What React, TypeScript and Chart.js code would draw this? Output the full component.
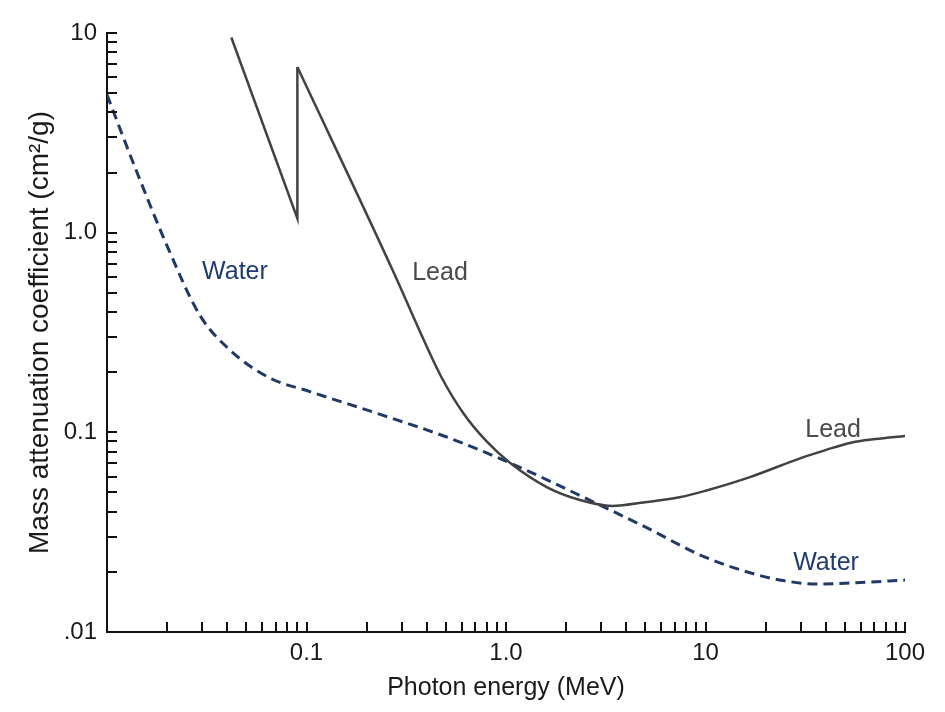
import React, { useEffect, useRef } from "react";
import { Chart, registerables } from "chart.js";

Chart.register(...registerables);

// Lead: pre K-edge segment (incl. edge jump)
const leadEdgeEnergy = [0.042, 0.09, 0.09];
const leadEdgeCoeff = [9.5, 1.18, 6.75];
// Lead: above K-edge
const leadEnergy = [0.09, 0.27, 0.4, 0.48, 0.61, 0.8, 1.05, 1.6, 2.35, 3.4, 5.1, 7.5, 10, 16.7, 30, 40, 53, 71, 100];
const leadCoeff = [6.75, 0.65, 0.27, 0.185, 0.125, 0.09, 0.0702, 0.0532, 0.0458, 0.0428, 0.0448, 0.0474, 0.051, 0.0597, 0.0743, 0.0815, 0.0885, 0.0925, 0.0958];
// Water
const waterEnergy = [0.01, 0.0138, 0.0202, 0.0292, 0.0414, 0.0656, 0.104, 0.234, 0.5, 1.05, 2.96, 5.1, 9.4, 16.7, 24.5, 36, 53, 100];
const waterCoeff = [4.9, 2.13, 0.84, 0.386, 0.258, 0.187, 0.16, 0.123, 0.095, 0.0702, 0.0432, 0.0332, 0.0243, 0.0198, 0.0181, 0.0174, 0.0176, 0.0182];

// Tick values and labels
const xMajorTicks = [0.01, 0.1, 1, 10, 100];
const xMajorLabels = ["", "0.1", "1.0", "10", "100"];
const yMajorTicks = [0.01, 0.1, 1, 10];
const yMajorLabels = [".01", "0.1", "1.0", "10"];
const minorMultipliers = [2, 3, 4, 5, 6, 7, 8, 9];

const xTitle = "Photon energy (MeV)";
const yTitle = "Mass attenuation coefficient (cm\u00B2/g)";

// In-plot curve labels (data coordinates)
const curveLabels = [
  { text: "Water", x: 0.0438, y: 0.635, color: "#1f3c6e" },
  { text: "Lead", x: 0.467, y: 0.628, color: "#4a4a4a" },
  { text: "Lead", x: 43.6, y: 0.1027, color: "#4a4a4a" },
  { text: "Water", x: 40.2, y: 0.0222, color: "#1f3c6e" },
];

const FONT = "'Liberation Sans', Arial, Helvetica, sans-serif";
const LEAD_COLOR = "#424242";
const WATER_COLOR = "#1f3a66";

function minorsFor(majors: number[]): number[] {
  const out: number[] = [];
  for (let i = 0; i < majors.length - 1; i++) {
    for (const m of minorMultipliers) out.push(majors[i] * m);
  }
  return out;
}

const decorPlugin = {
  id: "decor",
  afterDatasetsDraw(chart: any) {
    const { ctx, chartArea, scales } = chart;
    const xs = scales.x;
    const ys = scales.y;
    ctx.save();
    ctx.strokeStyle = "#111";
    ctx.lineWidth = 2;
    const tickLen = 10;
    ctx.beginPath();
    const xt = [...xMajorTicks, ...minorsFor(xMajorTicks)];
    for (const v of xt) {
      const px = Math.round(xs.getPixelForValue(v));
      if (px <= chartArea.left + 1) continue;
      ctx.moveTo(px, chartArea.bottom);
      ctx.lineTo(px, chartArea.bottom - tickLen);
    }
    const yt = [...yMajorTicks, ...minorsFor(yMajorTicks)];
    for (const v of yt) {
      const py = Math.round(ys.getPixelForValue(v));
      if (py >= chartArea.bottom - 1) continue;
      ctx.moveTo(chartArea.left, py);
      ctx.lineTo(chartArea.left + tickLen, py);
    }
    ctx.stroke();

    ctx.font = `25px ${FONT}`;
    ctx.textAlign = "center";
    ctx.textBaseline = "middle";
    for (const l of curveLabels) {
      ctx.fillStyle = l.color;
      ctx.fillText(l.text, xs.getPixelForValue(l.x), ys.getPixelForValue(l.y));
    }
    ctx.restore();
  },
};

export default function App() {
  const ref = useRef<HTMLCanvasElement | null>(null);
  useEffect(() => {
    if (!ref.current) return;
    const chart = new Chart(ref.current, {
      type: "scatter",
      data: {
        datasets: [
          {
            label: "Lead (below edge)",
            data: leadEdgeEnergy.map((x, i) => ({ x, y: leadEdgeCoeff[i] })),
            showLine: true,
            borderColor: LEAD_COLOR,
            borderWidth: 2.5,
            pointRadius: 0,
            tension: 0,
          },
          {
            label: "Lead",
            data: leadEnergy.map((x, i) => ({ x, y: leadCoeff[i] })),
            showLine: true,
            borderColor: LEAD_COLOR,
            borderWidth: 2.5,
            pointRadius: 0,
            cubicInterpolationMode: "monotone",
          },
          {
            label: "Water",
            data: waterEnergy.map((x, i) => ({ x, y: waterCoeff[i] })),
            showLine: true,
            borderColor: WATER_COLOR,
            borderWidth: 3,
            borderDash: [10, 6],
            pointRadius: 0,
            cubicInterpolationMode: "monotone",
          },
        ],
      },
      options: {
        responsive: false,
        animation: false,
        events: [],
        layout: { padding: { left: 0, top: 33, right: 40, bottom: 0 } },
        plugins: { legend: { display: false }, tooltip: { enabled: false } },
        scales: {
          x: {
            type: "logarithmic",
            min: 0.01,
            max: 100,
            grid: { display: false, drawTicks: false },
            border: { display: true, color: "#111", width: 2 },
            afterBuildTicks: (s: any) => {
              s.ticks = xMajorTicks.map((v) => ({ value: v }));
            },
            afterFit: (s: any) => {
              s.height = 80;
            },
            ticks: {
              autoSkip: false,
              maxRotation: 0,
              padding: 7,
              color: "#1a1a1a",
              font: { family: FONT, size: 24 },
              callback: (v: any) => {
                const i = xMajorTicks.findIndex((t) => Math.abs(t - Number(v)) / t < 1e-6);
                return i >= 0 ? xMajorLabels[i] : "";
              },
            },
            title: {
              display: true,
              text: xTitle,
              color: "#1a1a1a",
              font: { family: FONT, size: 25 },
              padding: { top: 0, bottom: 9 },
            },
          },
          y: {
            type: "logarithmic",
            min: 0.01,
            max: 10,
            grid: { display: false, drawTicks: false },
            border: { display: true, color: "#111", width: 2 },
            afterBuildTicks: (s: any) => {
              s.ticks = yMajorTicks.map((v) => ({ value: v }));
            },
            afterFit: (s: any) => {
              s.width = 107;
            },
            ticks: {
              autoSkip: false,
              padding: 10,
              color: "#1a1a1a",
              font: { family: FONT, size: 24 },
              callback: (v: any) => {
                const i = yMajorTicks.findIndex((t) => Math.abs(t - Number(v)) / t < 1e-6);
                return i >= 0 ? yMajorLabels[i] : "";
              },
            },
            title: {
              display: true,
              text: yTitle,
              color: "#1a1a1a",
              font: { family: FONT, size: 28 },
              padding: { top: 23, bottom: 0 },
            },
          },
        },
      },
      plugins: [decorPlugin],
    } as any);
    return () => chart.destroy();
  }, []);
  return (
    <div style={{ position: "absolute", left: 0, top: 0, width: 945, height: 712, background: "#fff" }}>
      <canvas ref={ref} width={945} height={712} />
    </div>
  );
}
